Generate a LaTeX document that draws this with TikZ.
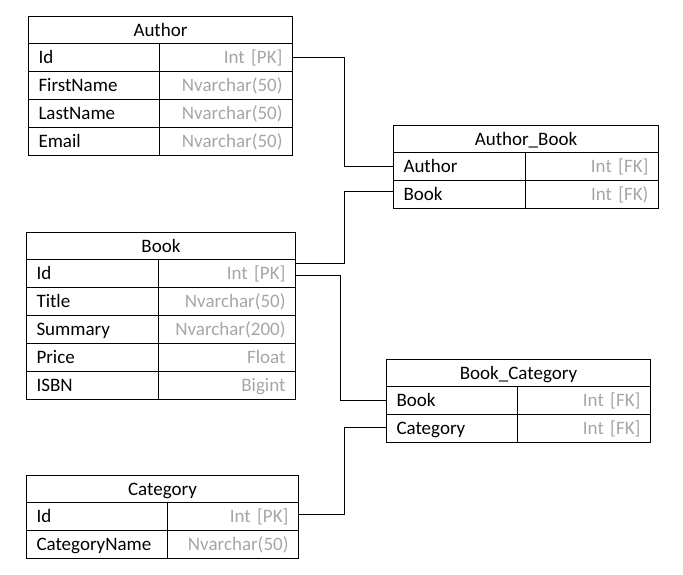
\documentclass[tikz,border=0pt]{standalone}
\usepackage{fontspec}
\setmainfont{Carlito}
\usepackage{tikz}
\definecolor{typegray}{RGB}{166, 166, 166}

\begin{document}
\begin{tikzpicture}[x=1pt, y=-1pt, line width=1pt,
    cell/.style={draw, anchor=north west, inner xsep=10pt, inner ysep=0pt,
      minimum height=28pt, text height=15pt, text depth=3pt,
      font=\fontsize{19}{22}\selectfont},
    head/.style={cell, minimum height=27pt, align=center, text width=#1},
    field/.style={cell, align=left, text width=#1},
    kind/.style={cell, align=right, text=typegray, text width=#1}]
  \useasboundingbox (0, 0) rectangle (683, 574);

  \node[head=244pt] (author) at (28, 16) {Author};
  \node[field=111pt] (author-id) at (28, 43) {Id};
  \node[kind=113pt] (author-id-t) at (159, 43) {Int [PK]};
  \node[field=111pt] (author-first) at (28, 71) {FirstName};
  \node[kind=113pt] (author-first-t) at (159, 71) {Nvarchar(50)};
  \node[field=111pt] (author-last) at (28, 99) {LastName};
  \node[kind=113pt] (author-last-t) at (159, 99) {Nvarchar(50)};
  \node[field=111pt] (author-email) at (28, 127) {Email};
  \node[kind=113pt] (author-email-t) at (159, 127) {Nvarchar(50)};

  \node[head=245pt] (ab) at (393, 125) {Author\_Book};
  \node[field=112pt] (ab-author) at (393, 152) {Author};
  \node[kind=113pt] (ab-author-t) at (525, 152) {Int [FK]};
  \node[field=112pt] (ab-book) at (393, 180) {Book};
  \node[kind=113pt] (ab-book-t) at (525, 180) {Int [FK)};

  \node[head=249pt] (book) at (26, 232) {Book};
  \node[field=112pt] (book-id) at (26, 259) {Id};
  \node[kind=117pt] (book-id-t) at (158, 259) {Int [PK]};
  \node[field=112pt] (book-title) at (26, 287) {Title};
  \node[kind=117pt] (book-title-t) at (158, 287) {Nvarchar(50)};
  \node[field=112pt] (book-summary) at (26, 315) {Summary};
  \node[kind=117pt] (book-summary-t) at (158, 315) {Nvarchar(200)};
  \node[field=112pt] (book-price) at (26, 343) {Price};
  \node[kind=117pt] (book-price-t) at (158, 343) {Float};
  \node[field=112pt] (book-isbn) at (26, 371) {ISBN};
  \node[kind=117pt] (book-isbn-t) at (158, 371) {Bigint};

  \node[head=244pt] (bc) at (386, 359) {Book\_Category};
  \node[field=111pt] (bc-book) at (386, 386) {Book};
  \node[kind=113pt] (bc-book-t) at (517, 386) {Int [FK]};
  \node[field=111pt] (bc-category) at (386, 414) {Category};
  \node[kind=113pt] (bc-category-t) at (517, 414) {Int [FK]};

  \node[head=252pt] (category) at (26, 475) {Category};
  \node[field=121pt] (category-id) at (26, 502) {Id};
  \node[kind=111pt] (category-id-t) at (167, 502) {Int [PK]};
  \node[field=121pt] (category-name) at (26, 530) {CategoryName};
  \node[kind=111pt] (category-name-t) at (167, 530) {Nvarchar(50)};

  \draw (author-id-t.east) -- ++(51, 0) |- (ab-author.west);
  \draw ([yshift=10pt]book-id-t.east) -- ++(48, 0) |- ([yshift=3pt]ab-book.west);
  \draw ([yshift=-2pt]book-id-t.east) -- ++(44, 0) |- (bc-book.west);
  \draw ([yshift=2pt]category-id-t.east) -- ++(45, 0) |- ([yshift=1pt]bc-category.west);

\end{tikzpicture}
\end{document}
